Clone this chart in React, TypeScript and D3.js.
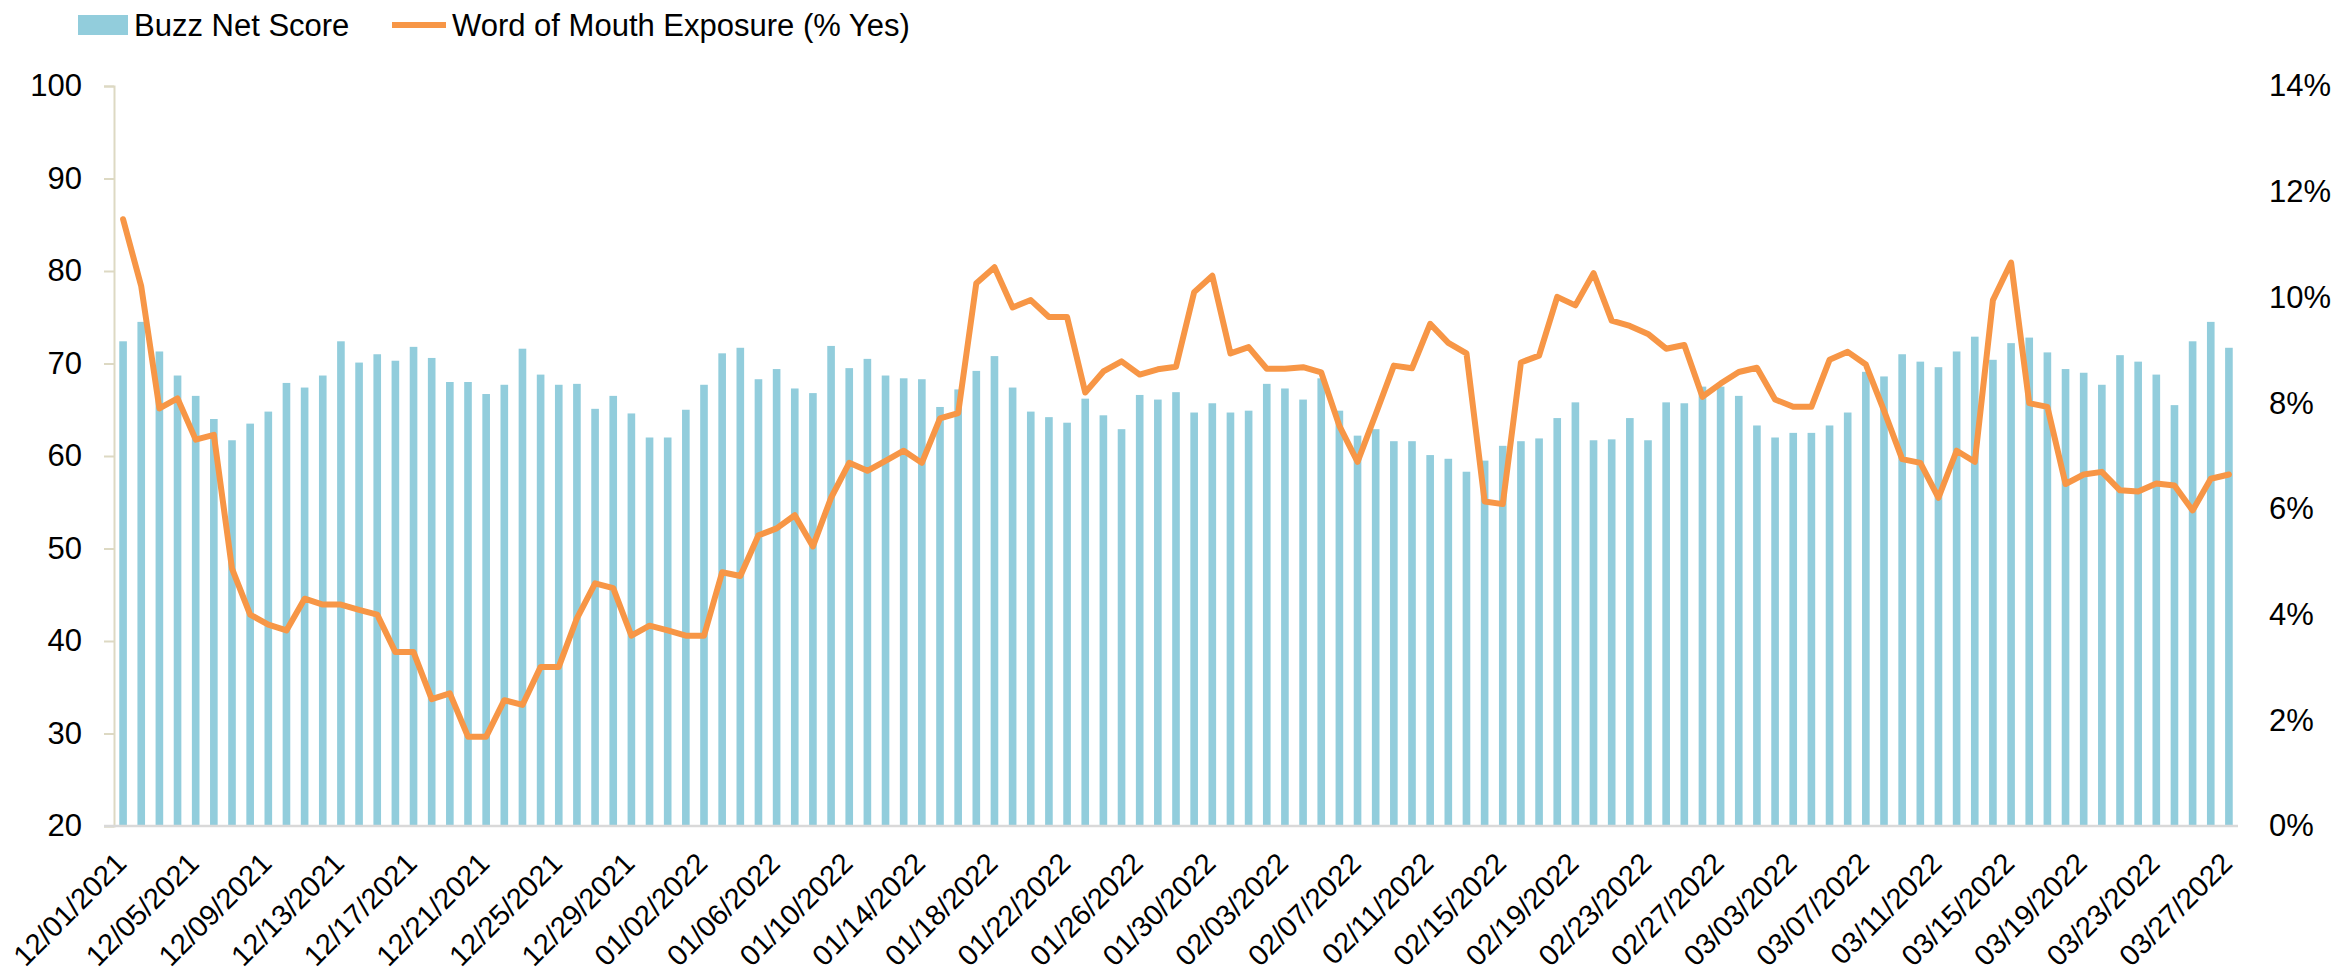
import React, { useEffect, useRef } from 'react';
import * as d3 from 'd3';

// daily dates 12/01/2021 .. 03/27/2022
const startDate = new Date(2021, 11, 1);
const endDate = new Date(2022, 2, 28);
const dates = d3.timeDay.range(startDate, endDate).map(d3.timeFormat('%m/%d/%Y'));

const buzzNetScore = [
  72.4, 74.5, 71.3, 68.7, 66.5, 64.0, 61.7, 63.5, 64.8, 67.9,
  67.4, 68.7, 72.4, 70.1, 71.0, 70.3, 71.8, 70.6, 68.0, 68.0,
  66.7, 67.7, 71.6, 68.8, 67.7, 67.8, 65.1, 66.5, 64.6, 62.0,
  62.0, 65.0, 67.7, 71.1, 71.7, 68.3, 69.4, 67.3, 66.8, 71.9,
  69.5, 70.5, 68.7, 68.4, 68.3, 65.3, 67.2, 69.2, 70.8, 67.4,
  64.8, 64.2, 63.6, 66.2, 64.4, 62.9, 66.6, 66.1, 66.9, 64.7,
  65.7, 64.7, 64.9, 67.8, 67.3, 66.1, 68.4, 64.9, 62.2, 62.9,
  61.6, 61.6, 60.1, 59.7, 58.3, 59.5, 61.1, 61.6, 61.9, 64.1,
  65.8, 61.7, 61.8, 64.1, 61.7, 65.8, 65.7, 67.5, 67.5, 66.5,
  63.3, 62.0, 62.5, 62.5, 63.3, 64.7, 69.1, 68.6, 71.0, 70.2,
  69.6, 71.3, 72.9, 70.4, 72.2, 72.8, 71.2, 69.4, 69.0, 67.7,
  70.9, 70.2, 68.8, 65.5, 72.4, 74.5, 71.7,
];

// percent
const wordOfMouth = [
  11.48, 10.21, 7.90, 8.09, 7.31, 7.40, 4.87, 4.00, 3.81, 3.70,
  4.30, 4.19, 4.19, 4.09, 4.00, 3.29, 3.29, 2.40, 2.51, 1.69,
  1.69, 2.38, 2.29, 3.01, 3.01, 3.93, 4.59, 4.50, 3.60, 3.79,
  3.70, 3.60, 3.60, 4.80, 4.73, 5.50, 5.63, 5.88, 5.29, 6.21,
  6.87, 6.72, 6.91, 7.10, 6.87, 7.71, 7.81, 10.27, 10.57, 9.81,
  9.95, 9.63, 9.63, 8.20, 8.60, 8.79, 8.54, 8.64, 8.69, 10.10,
  10.41, 8.94, 9.06, 8.65, 8.65, 8.68, 8.58, 7.57, 6.89, 7.79,
  8.71, 8.66, 9.50, 9.14, 8.94, 6.14, 6.09, 8.77, 8.90, 10.01,
  9.85, 10.46, 9.56, 9.46, 9.31, 9.03, 9.10, 8.12, 8.37, 8.59,
  8.67, 8.07, 7.93, 7.93, 8.82, 8.97, 8.73, 7.86, 6.94, 6.87,
  6.21, 7.10, 6.89, 9.95, 10.66, 8.00, 7.93, 6.47, 6.65, 6.70,
  6.35, 6.33, 6.48, 6.44, 5.97, 6.57, 6.65,
];

const leftTicks = [20, 30, 40, 50, 60, 70, 80, 90, 100];
const rightTicks = [0, 2, 4, 6, 8, 10, 12, 14];
const labelEvery = 4;

const BAR_COLOR = '#92CDDC';
const LINE_COLOR = '#F79646';
const FONT = '"Liberation Sans", Arial, sans-serif';

export default function App() {
  const svgRef = useRef<SVGSVGElement>(null);

  useEffect(() => {
    if (!svgRef.current) return;
    const W = 2339, H = 980;
    const left = 114, right = 2238, top = 86, bottom = 826;

    const svg = d3.select(svgRef.current).attr('width', W).attr('height', H).html('');

    const x = d3.scaleBand<string>().domain(dates).range([left, right]).paddingInner(0.58).paddingOuter(0.29);
    const yL = d3.scaleLinear().domain([20, 100]).range([bottom, top]);
    const yR = d3.scaleLinear().domain([0, 14]).range([bottom, top]);

    // bars
    svg.append('g').selectAll('rect').data(buzzNetScore).join('rect')
      .attr('x', (_, i) => x(dates[i])!)
      .attr('width', x.bandwidth())
      .attr('y', d => yL(d))
      .attr('height', d => yL(20) - yL(d))
      .attr('fill', BAR_COLOR);

    // left axis
    const gl = svg.append('g').attr('transform', `translate(${left},0)`)
      .call(d3.axisLeft(yL).tickValues(leftTicks).tickSize(10).tickPadding(22));
    gl.select('.domain').attr('stroke', '#DDD9C3').attr('stroke-width', 2);
    gl.selectAll('.tick line').attr('stroke', '#DDD9C3').attr('stroke-width', 2);
    gl.selectAll('.tick text').attr('fill', '#000').attr('font-size', 31).attr('font-family', FONT);

    // right axis (labels only)
    const gr = svg.append('g').attr('transform', `translate(${right},0)`)
      .call(d3.axisRight(yR).tickValues(rightTicks).tickSize(0).tickPadding(31).tickFormat(d => `${d}%`));
    gr.select('.domain').remove();
    gr.selectAll('.tick text').attr('fill', '#000').attr('font-size', 31).attr('font-family', FONT);

    // bottom axis line
    svg.append('line').attr('x1', left - 10).attr('x2', right).attr('y1', bottom).attr('y2', bottom)
      .attr('stroke', '#D9D9D9').attr('stroke-width', 2.5);

    // x labels
    const cx = (i: number) => x(dates[i])! + x.bandwidth() / 2;
    svg.append('g').selectAll('text')
      .data(dates.filter((_, i) => i % labelEvery === 0))
      .join('text')
      .attr('transform', (_, k) => `translate(${cx(k * labelEvery) - 2},${bottom + 32}) rotate(-45)`)
      .attr('text-anchor', 'end')
      .attr('dominant-baseline', 'central')
      .attr('font-size', 29)
      .attr('font-family', FONT)
      .attr('fill', '#000')
      .text(d => d);

    // line
    const line = d3.line<number>().x((_, i) => cx(i)).y(d => yR(d));
    svg.append('path').datum(wordOfMouth)
      .attr('fill', 'none').attr('stroke', LINE_COLOR).attr('stroke-width', 6)
      .attr('stroke-linejoin', 'round').attr('stroke-linecap', 'round')
      .attr('d', line);

    // legend
    const lg = svg.append('g').attr('font-family', FONT).attr('font-size', 31);
    lg.append('rect').attr('x', 78).attr('y', 15).attr('width', 50).attr('height', 20).attr('fill', BAR_COLOR);
    lg.append('text').attr('x', 134).attr('y', 25).attr('dominant-baseline', 'central').text('Buzz Net Score');
    lg.append('line').attr('x1', 392).attr('x2', 446).attr('y1', 25).attr('y2', 25)
      .attr('stroke', LINE_COLOR).attr('stroke-width', 6);
    lg.append('text').attr('x', 452).attr('y', 25).attr('dominant-baseline', 'central').text('Word of Mouth Exposure (% Yes)');
  }, []);

  return (
    <div style={{ position: 'absolute', left: 0, top: 0, background: '#fff' }}>
      <svg ref={svgRef}></svg>
    </div>
  );
}
